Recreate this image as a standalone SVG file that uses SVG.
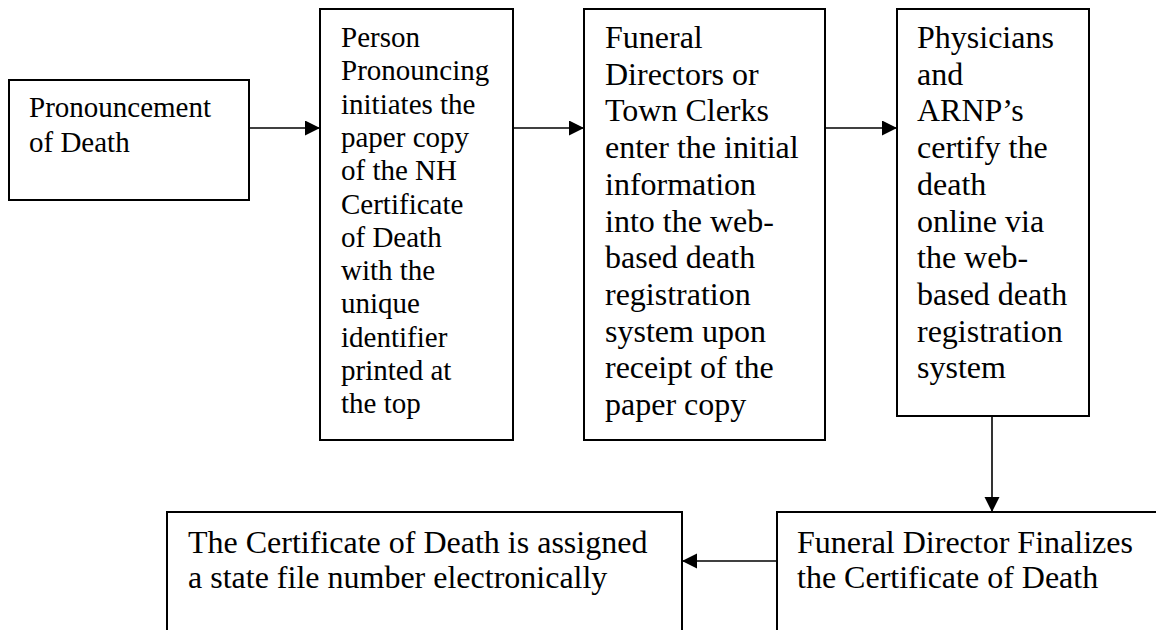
<svg xmlns="http://www.w3.org/2000/svg" width="1156" height="630" viewBox="0 0 1156 630">
  <style>
    .box { fill: #ffffff; stroke: #000000; stroke-width: 2; }
    .link { fill: none; stroke: #000000; stroke-width: 1.6; }
    .t { font-family: "Liberation Serif", "Times New Roman", serif; fill: #000000; }
    .s29 { font-size: 29px; }
    .s32 { font-size: 32px; }
  </style>
  <defs>
    <marker id="head" markerUnits="userSpaceOnUse" markerWidth="16" markerHeight="16" refX="15" refY="7.5" orient="auto">
      <path d="M0,0 L15,7.5 L0,15 z" fill="#000000"/>
    </marker>
  </defs>
  <rect width="1156" height="630" fill="#ffffff"/>

  <!-- connectors -->
  <g id="connectors">
    <line class="link" x1="249" y1="128" x2="320" y2="128" marker-end="url(#head)"/>
    <line class="link" x1="513" y1="128" x2="584" y2="128" marker-end="url(#head)"/>
    <line class="link" x1="825" y1="128" x2="897" y2="128" marker-end="url(#head)"/>
    <line class="link" x1="992" y1="416" x2="992" y2="512" marker-end="url(#head)"/>
    <line class="link" x1="777" y1="561" x2="682" y2="561" marker-end="url(#head)"/>
  </g>

  <!-- step 1 -->
  <g id="pronouncement">
    <rect class="box" x="9" y="80" width="240" height="120"/>
    <text class="t s29" x="29" y="117">Pronouncement</text>
    <text class="t s29" x="29" y="152">of Death</text>
  </g>

  <!-- step 2 -->
  <g id="person-pronouncing">
    <rect class="box" x="320" y="9" width="193" height="431"/>
    <text class="t s29">
      <tspan x="341" y="47">Person</tspan>
      <tspan x="341" y="80.3">Pronouncing</tspan>
      <tspan x="341" y="113.6">initiates the</tspan>
      <tspan x="341" y="146.9">paper copy</tspan>
      <tspan x="341" y="180.2">of the NH</tspan>
      <tspan x="341" y="213.5">Certificate</tspan>
      <tspan x="341" y="246.8">of Death</tspan>
      <tspan x="341" y="280.1">with the</tspan>
      <tspan x="341" y="313.4">unique</tspan>
      <tspan x="341" y="346.7">identifier</tspan>
      <tspan x="341" y="380">printed at</tspan>
      <tspan x="341" y="413.3">the top</tspan>
    </text>
  </g>

  <!-- step 3 -->
  <g id="funeral-directors">
    <rect class="box" x="584" y="9" width="241" height="431"/>
    <text class="t s32">
      <tspan x="605" y="48">Funeral</tspan>
      <tspan x="605" y="84.7">Directors or</tspan>
      <tspan x="605" y="121.4">Town Clerks</tspan>
      <tspan x="605" y="158.1">enter the initial</tspan>
      <tspan x="605" y="194.8">information</tspan>
      <tspan x="605" y="231.5">into the web-</tspan>
      <tspan x="605" y="268.2">based death</tspan>
      <tspan x="605" y="304.9">registration</tspan>
      <tspan x="605" y="341.6">system upon</tspan>
      <tspan x="605" y="378.3">receipt of the</tspan>
      <tspan x="605" y="415">paper copy</tspan>
    </text>
  </g>

  <!-- step 4 -->
  <g id="physicians">
    <rect class="box" x="897" y="9" width="192" height="407"/>
    <text class="t s32">
      <tspan x="917" y="48">Physicians</tspan>
      <tspan x="917" y="84.7">and</tspan>
      <tspan x="917" y="121.4">ARNP’s</tspan>
      <tspan x="917" y="158.1">certify the</tspan>
      <tspan x="917" y="194.8">death</tspan>
      <tspan x="917" y="231.5">online via</tspan>
      <tspan x="917" y="268.2">the web-</tspan>
      <tspan x="917" y="304.9">based death</tspan>
      <tspan x="917" y="341.6">registration</tspan>
      <tspan x="917" y="378.3">system</tspan>
    </text>
  </g>

  <!-- step 5 -->
  <g id="funeral-director-finalizes">
    <rect class="box" x="777" y="512" width="400" height="140"/>
    <text class="t s32" x="797" y="553">Funeral Director Finalizes</text>
    <text class="t s32" x="797" y="588">the Certificate of Death</text>
  </g>

  <!-- step 6 -->
  <g id="state-file-number">
    <rect class="box" x="167" y="512" width="515" height="140"/>
    <text class="t s32" x="188" y="553">The Certificate of Death is assigned</text>
    <text class="t s32" x="188" y="588">a state file number electronically</text>
  </g>
</svg>
